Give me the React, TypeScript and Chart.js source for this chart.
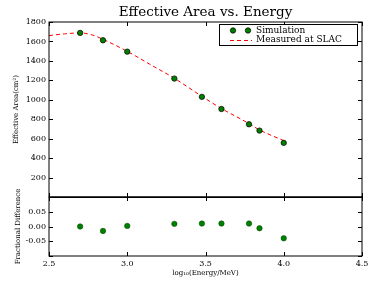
import { useEffect, useRef } from 'react';
import { Chart, registerables } from 'chart.js';

Chart.register(...registerables);

// Simulation points (log10 of energy in MeV)
const energyLog = [2.699, 2.845, 3.0, 3.301, 3.477, 3.602, 3.778, 3.845, 4.0];
const simulatedArea = [1688, 1612, 1495, 1218, 1030, 905, 748, 683, 557];
// Measured at SLAC curve
const measuredLog = [2.5, 2.6, 2.7, 2.78, 2.85, 3.0, 3.15, 3.3, 3.477, 3.6, 3.778, 3.845, 4.0];
const measuredArea = [1660, 1678, 1688, 1665, 1618, 1498, 1360, 1222, 1035, 912, 755, 690, 580];
// Fractional difference
const fractionalDiff = [0.0, -0.015, 0.002, 0.009, 0.01, 0.01, 0.01, -0.006, -0.04];

const xTicks = [2.5, 3.0, 3.5, 4.0, 4.5];
const areaTicks = [0, 200, 400, 600, 800, 1000, 1200, 1400, 1600, 1800];
const diffTicks = [-0.1, -0.05, 0, 0.05, 0.1];

const SERIF = '"DejaVu Serif", serif';
const GREEN = '#007f00';

const framePlugin = {
  id: 'framePlugin',
  afterDatasetsDraw(chart: any) {
    const ctx = chart.ctx;
    const x = chart.scales.x;
    const y = chart.scales.y;
    const y2 = chart.scales.y2;
    ctx.save();
    ctx.strokeStyle = '#000';
    ctx.lineWidth = 1;
    const L = Math.round(x.left);
    const R = Math.round(x.right);
    const panels = [
      { s: y, ticks: areaTicks },
      { s: y2, ticks: diffTicks },
    ];
    for (const p of panels) {
      const T = Math.round(p.s.top);
      const B = Math.round(p.s.bottom);
      ctx.strokeRect(L, T, R - L, B - T);
      ctx.beginPath();
      for (const v of xTicks) {
        const px = Math.round(x.getPixelForValue(v)) + 0.5;
        ctx.moveTo(px, T);
        ctx.lineTo(px, T + 4);
        ctx.moveTo(px, B);
        ctx.lineTo(px, B - 4);
      }
      for (const v of p.ticks) {
        const py = Math.round(p.s.getPixelForValue(v)) + 0.5;
        ctx.moveTo(L, py);
        ctx.lineTo(L + 4, py);
        ctx.moveTo(R, py);
        ctx.lineTo(R - 4, py);
      }
      ctx.stroke();
    }
    // crisp divider between the two panels
    const mid = Math.round(y.bottom) + 0.5;
    ctx.beginPath();
    ctx.moveTo(L, mid);
    ctx.lineTo(R, mid);
    ctx.stroke();
    ctx.restore();
  },
  afterDraw(chart: any) {
    const ctx = chart.ctx;
    const area = chart.chartArea;
    ctx.save();
    // Title
    ctx.fillStyle = '#000';
    ctx.font = `13.5px ${SERIF}`;
    ctx.textAlign = 'center';
    ctx.textBaseline = 'middle';
    ctx.fillText('Effective Area vs. Energy', (area.left + area.right) / 2, 12);

    // Legend
    const bx = 219.5, by = 24.5, bw = 138, bh = 21;
    ctx.fillStyle = '#fff';
    ctx.fillRect(bx, by, bw, bh);
    ctx.strokeStyle = '#000';
    ctx.lineWidth = 1;
    ctx.strokeRect(bx, by, bw, bh);
    for (const mx of [233, 248]) {
      ctx.beginPath();
      ctx.arc(mx, 30.5, 2.7, 0, Math.PI * 2);
      ctx.fillStyle = GREEN;
      ctx.fill();
      ctx.lineWidth = 0.7;
      ctx.strokeStyle = '#000';
      ctx.stroke();
    }
    ctx.beginPath();
    ctx.setLineDash([4, 3]);
    ctx.strokeStyle = '#ff0000';
    ctx.lineWidth = 1;
    ctx.moveTo(230, 40.5);
    ctx.lineTo(252, 40.5);
    ctx.stroke();
    ctx.setLineDash([]);
    ctx.fillStyle = '#000';
    ctx.font = `9px ${SERIF}`;
    ctx.textAlign = 'left';
    ctx.textBaseline = 'middle';
    ctx.fillText('Simulation', 256, 30.5);
    ctx.fillText('Measured at SLAC', 256, 40);
    ctx.restore();
  },
};

export default function App() {
  const canvasRef = useRef<HTMLCanvasElement | null>(null);

  useEffect(() => {
    document.body.style.margin = '0';
    const canvas = canvasRef.current;
    if (!canvas) return;
    const chart = new Chart(canvas, {
      type: 'scatter',
      data: {
        datasets: [
          {
            label: 'Measured at SLAC',
            data: measuredLog.map((v, i) => ({ x: v, y: measuredArea[i] })),
            yAxisID: 'y',
            showLine: true,
            borderColor: '#ff0000',
            borderWidth: 1,
            borderDash: [4, 3],
            pointRadius: 0,
            cubicInterpolationMode: 'monotone',
            order: 2,
          },
          {
            label: 'Simulation',
            data: energyLog.map((v, i) => ({ x: v, y: simulatedArea[i] })),
            yAxisID: 'y',
            backgroundColor: GREEN,
            borderColor: '#000',
            borderWidth: 0.7,
            pointRadius: 2.7,
            order: 1,
          },
          {
            label: 'Fractional Difference',
            data: energyLog.map((v, i) => ({ x: v, y: fractionalDiff[i] })),
            yAxisID: 'y2',
            backgroundColor: GREEN,
            borderColor: '#004f00',
            borderWidth: 0.6,
            pointRadius: 2.7,
            order: 1,
          },
        ],
      } as any,
      options: {
        animation: false,
        responsive: false,
        maintainAspectRatio: false,
        layout: { padding: { top: 22, left: 0, right: 30, bottom: 0 } },
        plugins: {
          legend: { display: false },
          title: { display: false },
          tooltip: { enabled: false },
        },
        scales: {
          x: {
            type: 'linear',
            position: 'bottom',
            min: 2.5,
            max: 4.5,
            grid: { display: false, drawTicks: false },
            border: { display: false },
            afterBuildTicks: (s: any) => {
              s.ticks = xTicks.map((v) => ({ value: v }));
            },
            afterFit: (s: any) => {
              s.height = 38;
            },
            ticks: {
              autoSkip: false,
              maxRotation: 0,
              padding: 3,
              color: '#000',
              font: { family: SERIF, size: 8 },
              callback: (v: any) => Number(v).toFixed(1),
            },
            title: {
              display: true,
              text: 'log₁₀(Energy/MeV)',
              color: '#000',
              font: { family: SERIF, size: 7 },
              padding: { top: 0, bottom: 17 },
            },
          },
          y: {
            type: 'linear',
            position: 'left',
            stack: 'panels',
            stackWeight: 175,
            weight: 1,
            min: 0,
            max: 1800,
            grid: { display: false, drawTicks: false },
            border: { display: false },
            afterBuildTicks: (s: any) => {
              s.ticks = areaTicks.map((v) => ({ value: v }));
            },
            afterFit: (s: any) => {
              s.width = 49;
            },
            ticks: {
              autoSkip: false,
              padding: 3,
              color: '#000',
              font: { family: SERIF, size: 8 },
              callback: (v: any) => (Number(v) === 0 ? '' : String(v)),
            },
            title: {
              display: true,
              text: 'Effective Area(cm²)',
              color: '#000',
              font: { family: SERIF, size: 7 },
              padding: { top: 12, bottom: 0 },
            },
          },
          y2: {
            type: 'linear',
            position: 'left',
            stack: 'panels',
            stackWeight: 59,
            weight: 0,
            min: -0.1,
            max: 0.1,
            grid: { display: false, drawTicks: false },
            border: { display: false },
            afterBuildTicks: (s: any) => {
              s.ticks = diffTicks.map((v) => ({ value: v }));
            },
            afterFit: (s: any) => {
              s.width = 49;
            },
            ticks: {
              autoSkip: false,
              padding: 3,
              color: '#000',
              font: { family: SERIF, size: 8 },
              callback: (v: any) => {
                const n = Number(v);
                if (Math.abs(n) > 0.075) return '';
                const r = Math.round(n * 100) / 100;
                return (r === 0 ? 0 : r).toFixed(2);
              },
            },
            title: {
              display: true,
              text: 'Fractional Difference',
              color: '#000',
              font: { family: SERIF, size: 7 },
              padding: { top: 14, bottom: 0 },
            },
          },
        },
      } as any,
      plugins: [framePlugin],
    });
    return () => chart.destroy();
  }, []);

  return (
    <div style={{ position: 'absolute', left: 0, top: 0, width: 392, height: 294, background: '#fff' }}>
      <canvas ref={canvasRef} width={392} height={294} style={{ width: 392, height: 294 }} />
    </div>
  );
}
